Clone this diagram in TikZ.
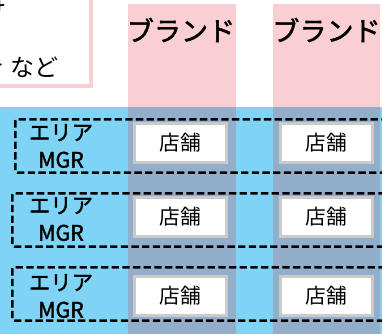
\documentclass[tikz,border=0pt]{standalone}
\usepackage{fontspec}
\setmainfont{Noto Sans CJK JP}
\newfontfamily\jpheavy{Noto Sans CJK JP}[FakeBold=1.6]
\usetikzlibrary{positioning}

\definecolor{brandpink}{HTML}{F9CFD3}
\definecolor{areablue}{HTML}{7FD4F6}
\definecolor{mixblue}{HTML}{93AECB}
\definecolor{storegray}{HTML}{CACACA}

\begin{document}
\begin{tikzpicture}[x=0.75pt, y=-0.75pt, node distance=109.5pt, on grid,
					brandlabel/.style={font=\fontsize{20.3}{22}\selectfont\jpheavy, inner sep=0pt},
					arearow/.style={draw, line width=1.9pt, dash pattern=on 5.5pt off 2.5pt,
						rounded corners=1.5pt, minimum width=289.5pt, minimum height=40pt,
						anchor=north west, inner sep=0pt},
					arealabel/.style={font=\fontsize{16}{20.5}\selectfont\jpheavy, align=center, inner sep=0pt},
					store/.style={draw=storegray, line width=2.2pt, fill=white, minimum width=69pt,
						minimum height=29pt, font=\fontsize{15.5}{16}\selectfont, inner sep=0pt},
					note/.style={font=\fontsize{18}{19}\selectfont, inner sep=0pt, anchor=east} ]
	\useasboundingbox (0,0) rectangle (382,333);
	\clip (0,0) rectangle (382,333);

	%背景: ブランド列とエリア帯
	\fill[brandpink] (128,4) rectangle (236,340);
	\fill[brandpink] (273,4) rectangle (380,340);
	\fill[areablue]  (-5,107) rectangle (390,340);
	\fill[mixblue]   (128,107) rectangle (236,340);
	\fill[mixblue]   (273,107) rectangle (380,340);

	%左上の説明枠
	\draw[brandpink, line width=3pt, fill=white] (-20,-20) rectangle (91,86);
	\node[note] (noteA) at (7,9)  {向け};
	\node[note] (noteB) at (59,67) {き など};

	\node[brandlabel] (brandA) at (181,30)   {ブランド};
	\node[brandlabel] (brandB) at (326.5,30) {ブランド};

	%エリア行
	\node[arearow] (row1) at (14,118) {};
	\node[arearow] (row2) at (11,192) {};
	\node[arearow] (row3) at (11,266) {};

	\node[arealabel] (mgr1) at (61,146) {エリア\\MGR};
	\node[arealabel] (mgr2) at (61,219) {エリア\\MGR};
	\node[arealabel] (mgr3) at (61,296) {エリア\\MGR};

	%店舗
	\node[store] (store11) at (180.5,143)  {店舗};
	\node[store] (store12) [right of=store11] {店舗};
	\node[store] (store21) at (180.5,217)  {店舗};
	\node[store] (store22) [right of=store21] {店舗};
	\node[store] (store31) at (180.5,296)  {店舗};
	\node[store] (store32) [right of=store31] {店舗};
\end{tikzpicture}
\end{document}
